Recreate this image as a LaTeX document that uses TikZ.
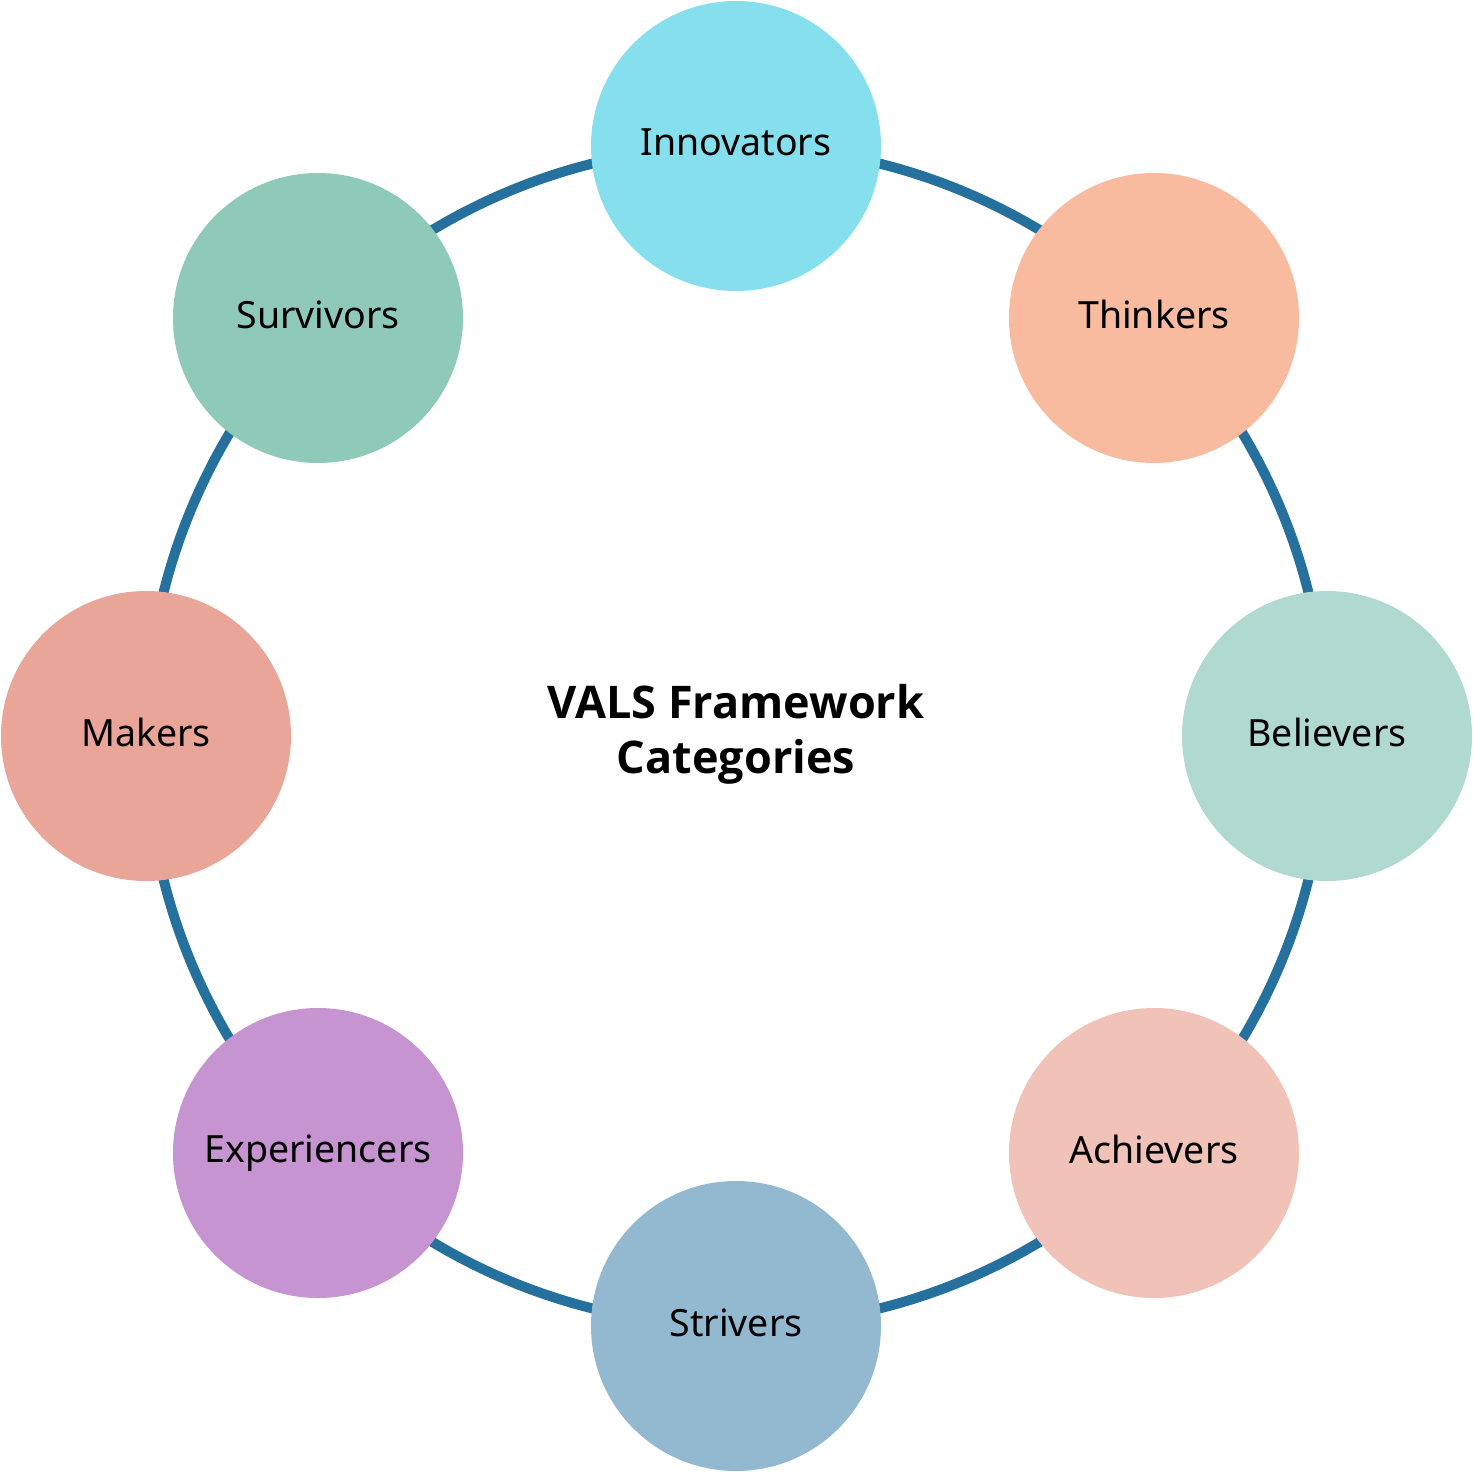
\documentclass[tikz,border=0pt]{standalone}
\usepackage{fontspec}
\setmainfont{Noto Sans}
\newfontfamily\titlef{Open Sans}
\definecolor{ringc}{HTML}{25709C}
\definecolor{cInn}{HTML}{86DFEC}
\definecolor{cThi}{HTML}{F9BBA0}
\definecolor{cBel}{HTML}{B0D9CF}
\definecolor{cAch}{HTML}{F0C2B8}
\definecolor{cStr}{HTML}{93B9D0}
\definecolor{cExp}{HTML}{C694D1}
\definecolor{cMak}{HTML}{E8A598}
\definecolor{cSur}{HTML}{8FCAB9}
\newcommand{\lift}[1]{\raisebox{7pt}{#1}}
\begin{document}
\begin{tikzpicture}[x=1pt,y=-1pt,
  cat/.style={circle,minimum size=290pt,inner sep=0pt,font=\fontsize{37.5}{44}\selectfont,text=black}]
\useasboundingbox (0,0) rectangle (1473,1472);
\coordinate (c) at (736,736);
\draw[ringc,line width=10pt] (c) circle (590pt);
\node[cat,fill=cInn] (inn) at (736,146) {\lift{Innovators}};
\node[cat,fill=cThi] (thi) at (1154,318) {\lift{Thinkers}};
\node[cat,fill=cBel] (bel) at (1327,736) {\lift{Believers}};
\node[cat,fill=cAch] (ach) at (1154,1153) {\lift{Achievers}};
\node[cat,fill=cStr] (str) at (736,1326) {\lift{Strivers}};
\node[cat,fill=cExp] (exp) at (318,1153) {\lift{Experiencers}};
\node[cat,fill=cMak] (mak) at (146,736) {\lift{Makers}};
\node[cat,fill=cSur] (sur) at (318,318) {\lift{Survivors}};
\node[align=center,font=\titlef\bfseries\fontsize{45}{55}\selectfont] (title) at (736,734) {VALS Framework\\Categories};
\end{tikzpicture}
\end{document}
